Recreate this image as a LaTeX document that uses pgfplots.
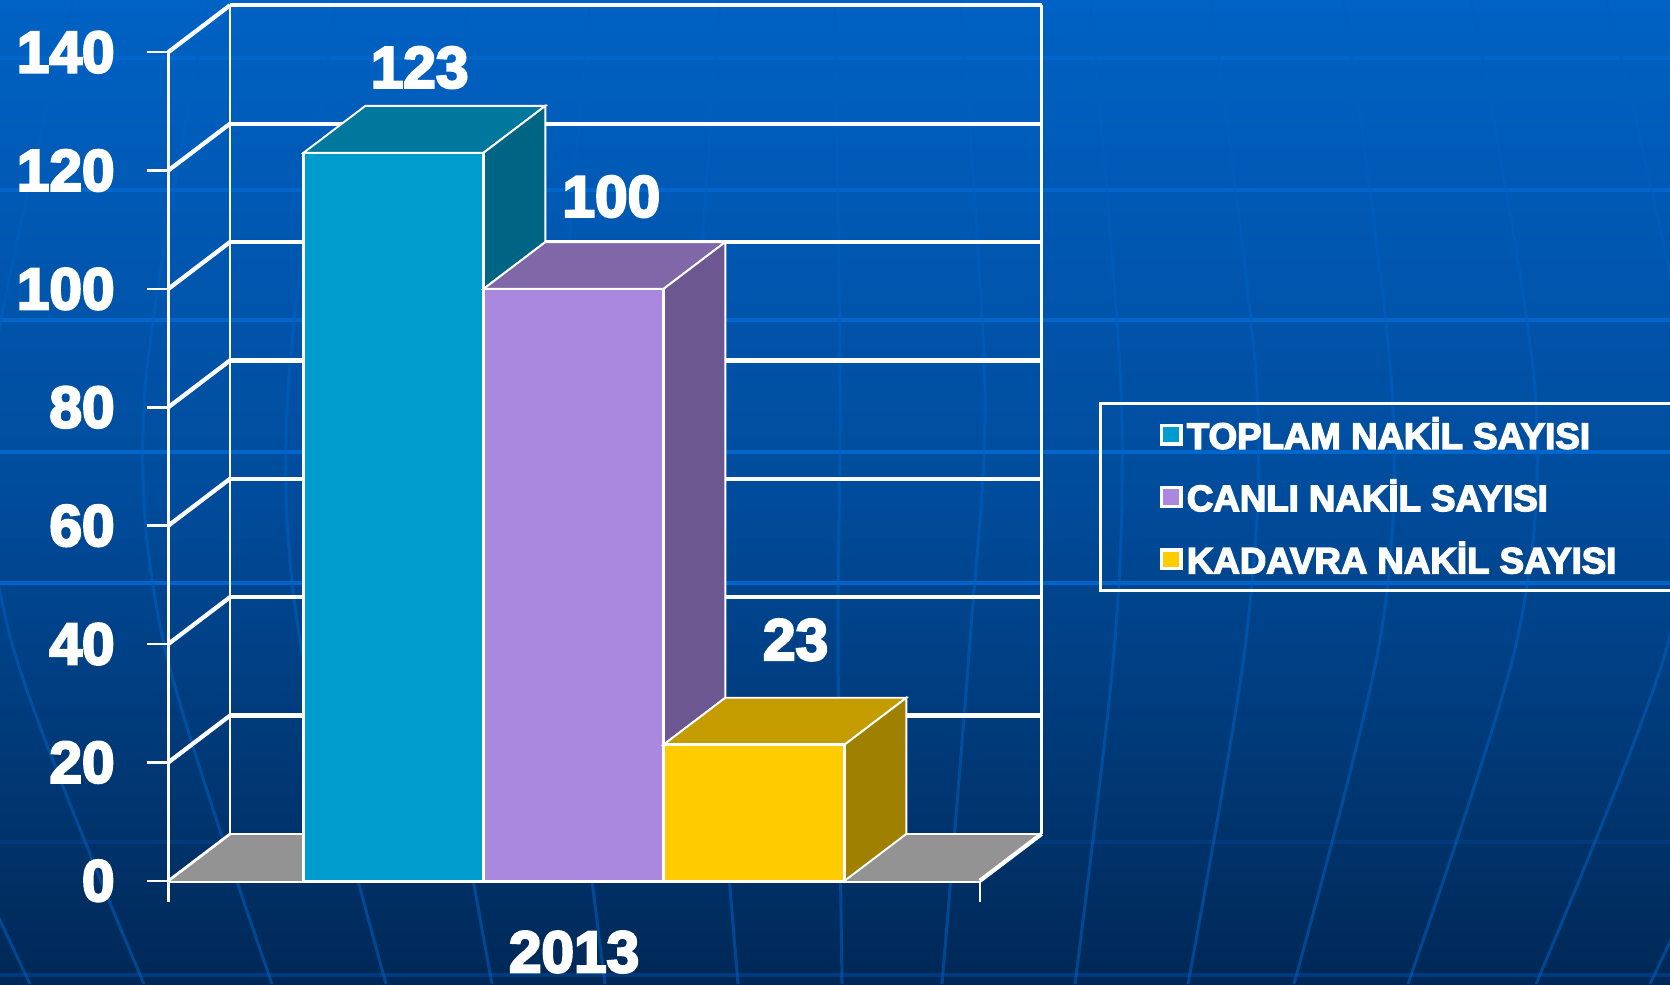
\documentclass[border=0pt]{standalone}
\usepackage{fontspec}
\usepackage{pgfplots}
\pgfplotsset{compat=1.18}
\setmainfont{Liberation Sans}
\newfontfamily\labfont[FakeBold=4]{Liberation Sans Bold}
\definecolor{cF}{HTML}{009CCE}\definecolor{cT}{HTML}{00779C}\definecolor{cS}{HTML}{006484}
\definecolor{pF}{HTML}{AA88E0}\definecolor{pT}{HTML}{8068A8}\definecolor{pS}{HTML}{6C5790}
\definecolor{yF}{HTML}{FFCC00}\definecolor{yT}{HTML}{C49C00}\definecolor{yS}{HTML}{A08000}
\definecolor{bgT}{HTML}{0062C4}\definecolor{bgM}{HTML}{004C9C}\definecolor{bgB}{HTML}{002856}
\definecolor{merid}{HTML}{0060C0}
\pgfplotsset{
 face/.style={forget plot,draw=white,line width=0.9pt,fill=#1},
 grd/.style={forget plot,white,line width=2pt},
 grv/.style={forget plot,white,line width=1.3pt},
 swatch/.style={legend image code/.code={\draw[white,line width=1.6pt,fill=#1] (3pt,-4.4pt) rectangle (12pt,4.4pt);}},
}
\begin{document}
\begin{tikzpicture}
\path[use as bounding box] (0,0) rectangle (784pt,462pt);
\shade[top color=bgT,bottom color=bgB,middle color=bgM] (0,0) rectangle (784pt,462pt);
\begin{scope}[x=0.46946pt,y=-0.46946pt,yshift=462pt]
 % horizontal bands
 \foreach \yy/\cc in {58/0066CC,190/0066CC,320/0066CC,452/0066CC,583/0064C8,714/00397C,842/003A7A,975/003A7C}{
   \definecolor{bandc}{HTML}{\cc}
   \draw[bandc,line width=1.5pt] (0,\yy) -- (1670,\yy);}
 % meridians
 \begin{scope}[merid,opacity=.55,line width=1.4pt]
 \foreach \a/\b/\c/\d in {960/985/970/942,1090/1121/1115/1075,1211/1257/1246/1188,1344/1392/1380/1294,1472/1535/1517/1408,1607/1690/1669/1536,1740/1830/1800/1650}{
   \draw plot[smooth] coordinates {(\a,0)(\b,390)(\c,640)(\d,984)};
   \draw plot[smooth] coordinates {({1680-\a},0)({1680-\b},390)({1680-\c},640)({1680-\d},984)};
 }
 \draw plot[smooth] coordinates {(835,0)(840,390)(838,640)(842,984)};
 \end{scope}
\end{scope}
\begin{axis}[
 at={(79pt,48.5pt)},anchor=south west,scale only axis,
 width=381pt,height=389pt,
 xmin=158,xmax=920,ymin=0,ymax=140,clip=false,
 axis x line*=bottom,axis y line*=left,
 x axis line style={white,line width=2.1pt},
 y axis line style={white,line width=1.3pt},
 tick align=outside,major tick length=10pt,
 tick style={white,line width=1.2pt},
 xtick={158,920},xticklabels={,},
 extra x ticks={539},extra x tick labels={2013},
 extra x tick style={major tick length=0pt,xticklabel style={text=white,font=\labfont\fontsize{27.5}{30}\selectfont,inner sep=0pt,yshift=-23.5pt}},
 ytick={0,20,...,140},
 /pgf/number format/assume math mode=true,
 yticklabel style={text=white,font=\labfont\fontsize{27.5}{30}\selectfont,inner sep=0pt,xshift=-15pt},
 legend style={at={(rel axis cs:1.147,0.5775)},anchor=north west,draw=white,line width=1.2pt,fill=none,
   text=white,font=\labfont\fontsize{17.2}{20}\selectfont,inner xsep=28pt,inner ysep=4.5pt,
   row sep=9pt},
 legend cell align=left,
]
% floor
\addplot[forget plot,fill=gray!85!white,draw=none] coordinates {(158,0)(216,7.92)(978,7.92)(920,0)} --cycle;
% back wall grid
\addplot[grd] coordinates {(216,27.92)(978,27.92)};
\addplot[grd] coordinates {(216,47.92)(978,47.92)};
\addplot[grd] coordinates {(216,67.92)(978,67.92)};
\addplot[grd] coordinates {(216,87.92)(978,87.92)};
\addplot[grd] coordinates {(216,107.92)(978,107.92)};
\addplot[grd] coordinates {(216,127.92)(978,127.92)};
\addplot[grd] coordinates {(216,147.92)(978,147.92)};
\addplot[grv] coordinates {(216,7.92)(978,7.92)};
% side wall grid
\addplot[grd] coordinates {(158,20)(216,27.92)};
\addplot[grd] coordinates {(158,40)(216,47.92)};
\addplot[grd] coordinates {(158,60)(216,67.92)};
\addplot[grd] coordinates {(158,80)(216,87.92)};
\addplot[grd] coordinates {(158,100)(216,107.92)};
\addplot[grd] coordinates {(158,120)(216,127.92)};
\addplot[grd] coordinates {(158,140)(216,147.92)};
\addplot[grv] coordinates {(158,0)(216,7.92)};
\addplot[grv] coordinates {(216,7.92)(216,147.92)};
\addplot[grv] coordinates {(978,7.92)(978,147.92)};
\addplot[grd] coordinates {(920,0)(978,7.92)};
% TOPLAM
\addplot[face=cT] coordinates {(285,123)(343,130.92)(512,130.92)(454,123)} --cycle;
\addplot[face=cS] coordinates {(454,123)(512,130.92)(512,107.92)(454,100)} --cycle;
\addplot[ybar,bar width=169,bar shift=0pt,draw=white,line width=1.1pt,fill=cF,swatch=cF] coordinates {(369.5,123)};
\addlegendentry{TOPLAM NAKİL SAYISI}
% CANLI
\addplot[face=pT] coordinates {(454,100)(512,107.92)(681,107.92)(623,100)} --cycle;
\addplot[face=pS] coordinates {(623,100)(681,107.92)(681,30.92)(623,23)} --cycle;
\addplot[ybar,bar width=169,bar shift=0pt,draw=white,line width=1.1pt,fill=pF,swatch=pF] coordinates {(538.5,100)};
\addlegendentry{CANLI NAKİL SAYISI}
% KADAVRA
\addplot[face=yT] coordinates {(623,23)(681,30.92)(851,30.92)(793,23)} --cycle;
\addplot[face=yS] coordinates {(793,23)(851,30.92)(851,7.92)(793,0)} --cycle;
\addplot[ybar,bar width=170,bar shift=0pt,draw=white,line width=1.1pt,fill=yF,swatch=yF] coordinates {(708,23)};
\addlegendentry{KADAVRA NAKİL SAYISI}
% value labels
\node[text=white,font=\labfont\fontsize{27.5}{30}\selectfont] at (axis cs:394,137.4) {123};
\node[text=white,font=\labfont\fontsize{27.5}{30}\selectfont] at (axis cs:574,115.6) {100};
\node[text=white,font=\labfont\fontsize{27.5}{30}\selectfont] at (axis cs:747,40.7) {23};
\end{axis}
\end{tikzpicture}
\end{document}
